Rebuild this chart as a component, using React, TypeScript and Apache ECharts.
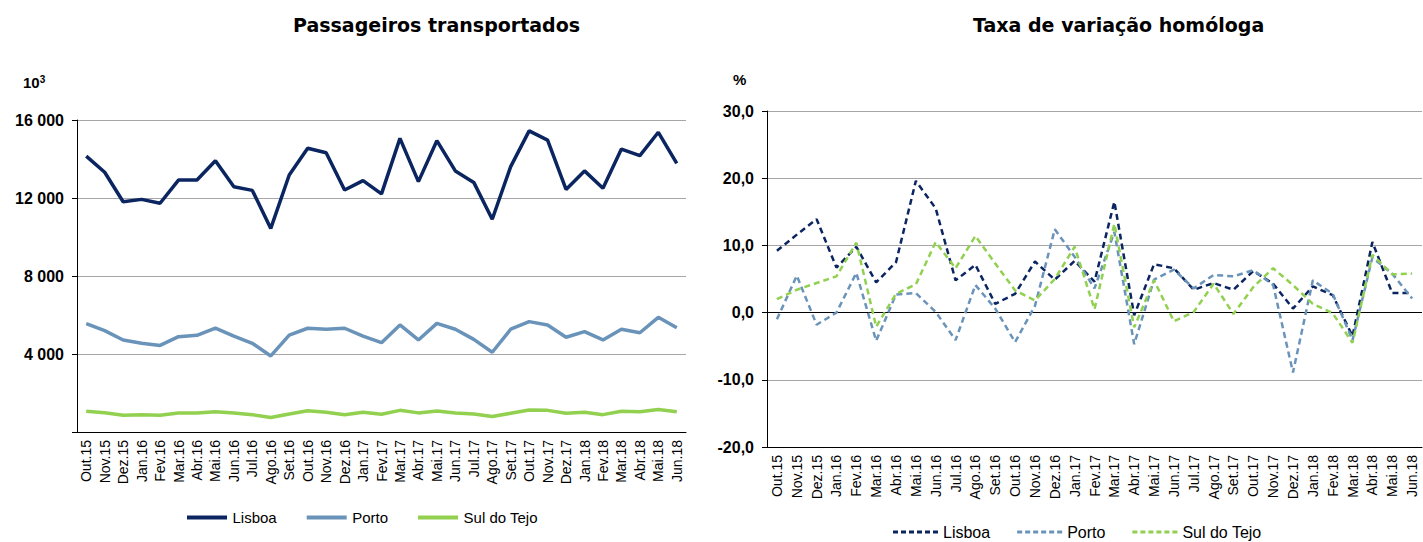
import React, { useEffect, useRef } from "react";
import * as echarts from "echarts";

const months = [
  "Out.15", "Nov.15", "Dez.15",
  "Jan.16", "Fev.16", "Mar.16", "Abr.16", "Mai.16", "Jun.16", "Jul.16", "Ago.16", "Set.16", "Out.16", "Nov.16", "Dez.16",
  "Jan.17", "Fev.17", "Mar.17", "Abr.17", "Mai.17", "Jun.17", "Jul.17", "Ago.17", "Set.17", "Out.17", "Nov.17", "Dez.17",
  "Jan.18", "Fev.18", "Mar.18", "Abr.18", "Mai.18", "Jun.18",
];

const seriesNames = ["Lisboa", "Porto", "Sul do Tejo"];

const lisboaPass = [14150, 13320, 11810, 11930, 11730, 12920, 12920, 13910, 12580, 12390, 10440, 13180, 14550, 14320, 12410, 12890, 12210, 15060, 12840, 14940, 13390, 12800, 10910, 13610, 15440, 14970, 12440, 13390, 12500, 14510, 14170, 15370, 13780];
const portoPass = [5560, 5200, 4720, 4550, 4440, 4890, 4960, 5330, 4920, 4550, 3900, 4970, 5320, 5270, 5320, 4920, 4580, 5490, 4720, 5570, 5270, 4750, 4090, 5270, 5660, 5490, 4860, 5150, 4720, 5270, 5090, 5880, 5350];
const sulPass = [1060, 990, 860, 890, 860, 980, 980, 1040, 980, 890, 740, 920, 1090, 1010, 890, 1010, 910, 1110, 980, 1080, 980, 920, 790, 960, 1130, 1110, 960, 1010, 890, 1060, 1040, 1150, 1040];

const lisboaVar = [9.2, 11.6, 13.9, 6.7, 9.8, 4.5, 7.5, 19.6, 15.5, 4.8, 7.1, 1.3, 2.8, 7.6, 4.9, 7.7, 4.6, 16.5, -0.4, 7.2, 6.6, 3.4, 4.4, 3.4, 6.2, 4.3, 0.6, 3.9, 2.6, -3.5, 10.5, 2.9, 2.9];
const portoVar = [-1.0, 5.5, -1.8, 0.0, 5.9, -4.2, 2.7, 2.9, 0.1, -4.1, 4.1, 0.6, -4.4, 1.0, 12.4, 8.3, 3.6, 12.0, -4.7, 4.9, 6.4, 3.6, 5.6, 5.4, 6.3, 4.1, -8.9, 4.8, 2.8, -4.1, 8.2, 5.8, 2.1];
const sulVar = [2.0, 3.4, 4.4, 5.4, 10.4, -2.1, 2.8, 4.2, 10.5, 6.6, 11.4, 7.3, 3.3, 1.8, 5.0, 9.8, 0.5, 13.2, -2.2, 4.8, -1.3, 0.1, 4.3, -0.2, 3.8, 6.6, 4.1, 1.3, -0.1, -4.5, 8.6, 5.7, 5.8];

const leftTicks = { min: 0, max: 16000, interval: 4000 };
const rightTicks = { min: -20, max: 30, interval: 10 };

const colors = ["#0B2560", "#6A93B9", "#92D050"];
const FONT = "'Liberation Sans', Arial, sans-serif";
const TITLE_FONT = "'DejaVu Sans', Verdana, sans-serif";

// legend icons: a solid bar and a dashed bar
const SOLID_ICON = "path://M0,0 L40,0 L40,4 L0,4 Z";
const DASH_ICON =
  "path://" +
  [0, 8, 16, 24, 32, 40].map((x) => `M${x},0 L${x + 5},0 L${x + 5},3 L${x},3 Z`).join(" ");

const fmtThousands = (v: number) =>
  v === 0 ? "" : String(v).replace(/\B(?=(\d{3})+(?!\d))/g, " ");
const fmtDecimal = (v: number) => v.toFixed(1).replace(".", ",");

function xAxisCommon() {
  return {
    type: "category",
    data: months,
    boundaryGap: true,
    axisTick: { show: false },
    axisLine: { onZero: false, lineStyle: { color: "#000", width: 1 } },
    axisLabel: {
      rotate: 90,
      interval: 0,
      margin: 8,
      color: "#000",
      fontFamily: FONT,
      fontSize: 14,
    },
  };
}

function yAxisCommon(t: { min: number; max: number; interval: number }, fmt: (v: number) => string) {
  return {
    type: "value",
    min: t.min,
    max: t.max,
    interval: t.interval,
    axisLine: { show: true, lineStyle: { color: "#000", width: 1 } },
    axisTick: { show: true, length: 5, lineStyle: { color: "#000" } },
    splitLine: { show: true, lineStyle: { color: "#A6A6A6", width: 1 } },
    axisLabel: {
      margin: 13,
      color: "#000",
      fontFamily: FONT,
      fontSize: 16,
      fontWeight: "bold",
      formatter: fmt,
    },
  };
}

function leftOption() {
  const data = [lisboaPass, portoPass, sulPass];
  return {
    animation: false,
    title: {
      text: "Passageiros transportados",
      left: 288,
      top: 10,
      textStyle: { fontFamily: TITLE_FONT, fontSize: 19, fontWeight: "bold", color: "#000" },
    },
    graphic: [
      {
        type: "text",
        left: 23,
        top: 74,
        style: {
          text: "{b|10}{s|3}",
          rich: {
            b: { fontFamily: FONT, fontSize: 15, fontWeight: "bold", fill: "#000", verticalAlign: "bottom" },
            s: { fontFamily: FONT, fontSize: 10, fontWeight: "bold", fill: "#000", verticalAlign: "top", padding: [0, 0, 6, 0] },
          },
        },
      },
    ],
    legend: {
      left: 182,
      top: 505,
      itemWidth: 41,
      itemHeight: 4,
      itemGap: 30,
      textStyle: { fontFamily: FONT, fontSize: 15, color: "#000" },
      data: seriesNames.map((name) => ({ name, icon: SOLID_ICON })),
    },
    grid: { left: 77, top: 120, width: 609, height: 312, containLabel: false },
    xAxis: xAxisCommon(),
    yAxis: yAxisCommon(leftTicks, fmtThousands),
    series: seriesNames.map((name, i) => ({
      name,
      type: "line",
      data: data[i],
      symbol: "none",
      lineStyle: { color: colors[i], width: 3.5 },
      itemStyle: { color: colors[i] },
    })),
  };
}

function rightOption() {
  const data = [lisboaVar, portoVar, sulVar];
  return {
    animation: false,
    title: {
      text: "Taxa de variação homóloga",
      left: 257,
      top: 10,
      textStyle: { fontFamily: TITLE_FONT, fontSize: 19, fontWeight: "bold", color: "#000" },
    },
    graphic: [
      {
        type: "text",
        left: 22,
        top: 72,
        style: { text: "%", fontFamily: FONT, fontSize: 15, fontWeight: "bold", fill: "#000" },
      },
    ],
    legend: {
      left: 177,
      top: 519,
      itemWidth: 45,
      itemHeight: 3,
      itemGap: 27,
      textStyle: { fontFamily: FONT, fontSize: 16, color: "#000" },
      data: seriesNames.map((name) => ({ name, icon: DASH_ICON })),
    },
    grid: { left: 56, top: 111, width: 655, height: 336, containLabel: false },
    xAxis: xAxisCommon(),
    yAxis: yAxisCommon(rightTicks, fmtDecimal),
    series: seriesNames.map((name, i) => ({
      name,
      type: "line",
      data: data[i],
      symbol: "none",
      lineStyle: { color: colors[i], width: 2.5, type: [6, 4] },
      itemStyle: { color: colors[i] },
      markLine:
        i === 0
          ? {
              silent: true,
              symbol: "none",
              label: { show: false },
              lineStyle: { color: "#000", type: "solid", width: 1 },
              data: [{ yAxis: 0 }],
              z: 1,
            }
          : undefined,
    })),
  };
}

function Chart({ left, width, option }: { left: number; width: number; option: any }) {
  const ref = useRef<HTMLDivElement>(null);
  useEffect(() => {
    if (!ref.current) return;
    const chart = echarts.init(ref.current, undefined, { renderer: "svg" });
    chart.setOption(option);
    return () => chart.dispose();
  }, []);
  return (
    <div
      ref={ref}
      style={{ position: "absolute", left, top: 0, width, height: 542, background: "#fff" }}
    />
  );
}

export default function App() {
  return (
    <div style={{ position: "fixed", left: 0, top: 0, width: 1423, height: 542, background: "#fff" }}>
      <Chart left={0} width={711} option={leftOption()} />
      <Chart left={711} width={712} option={rightOption()} />
    </div>
  );
}
